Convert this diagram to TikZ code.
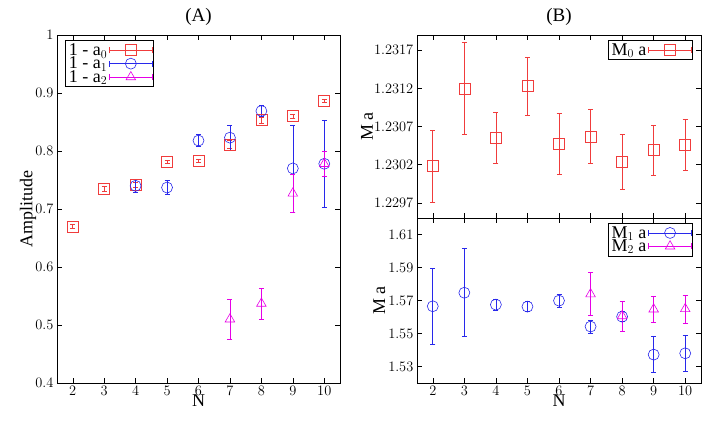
\documentclass[tikz,border=0pt]{standalone}
\usepackage{fontspec}
\setmainfont{Liberation Serif}
\usepackage{pgfplots}
\pgfplotsset{compat=1.18}
\definecolor{gpred}{RGB}{240,60,60}
\definecolor{gpblue}{RGB}{40,40,235}
\definecolor{gpmag}{RGB}{230,0,230}
\pgfplotsset{
  every tick label/.append style={font=\fontsize{14}{15}\selectfont},
  every axis label/.append style={font=\fontsize{18}{19}\selectfont},
  every axis title/.append style={font=\fontsize{19}{20}\selectfont},
  every axis legend/.append style={font=\fontsize{18}{18}\selectfont},
  gpaxis/.style={scale only axis,anchor=south west,xmin=1.5,xmax=10.5,
    xtick={2,...,10},tick align=inside,tick style={black,thin},
    major tick length=5pt,line width=0.7pt,
    legend cell align=left,legend plot pos=right,
    legend style={draw=black,line width=0.7pt,inner sep=1pt,row sep=-4pt}},
  gperr/.style={#1,only marks,mark size=5.5pt,line width=0.6pt,
    legend image code/.code={
      \draw[#1,mark=none,line width=0.6pt] (0cm,-3pt)--(0cm,3pt) (0cm,0cm)--(1.5cm,0cm) (1.5cm,-3pt)--(1.5cm,3pt);
      \draw[#1,only marks] plot coordinates {(0.75cm,0cm)};},
    error bars/.cd,y dir=both,y explicit,
    error bar style={#1,line width=0.6pt},
    error mark options={#1,rotate=90,mark size=2.5pt,line width=0.6pt}},
  gpzero/.style={mark=square,gperr=gpred},
  gpone/.style={mark=o,gperr=gpblue},
  gptwo/.style={mark=triangle,gperr=gpmag}
}
\begin{document}
\begin{tikzpicture}
\useasboundingbox (0,0) rectangle (708pt,436pt);
% (A) amplitudes
\begin{axis}[gpaxis,at={(57pt,53pt)},width=283pt,height=348pt,
  ymin=0.4,ymax=1,ytick={0.4,0.5,...,1.0},
  yticklabel style={/pgf/number format/fixed,/pgf/number format/precision=1},
  title={(A)},xlabel={N},ylabel={Amplitude},
  xlabel style={yshift=8pt},ylabel style={yshift=-8pt},
  legend style={at={(0.03,0.985)},anchor=north west}]
\addplot[gpzero] table[y error=e] {
x y e
2 0.670 0.004
3 0.735 0.004
4 0.742 0.004
5 0.781 0.003
6 0.783 0.003
7 0.811 0.007
8 0.853 0.005
9 0.860 0.003
10 0.887 0.003
};
\addlegendentry{1 - a$_0$}
\addplot[gpone] table[y error=e] {
x y e
4 0.740 0.012
5 0.737 0.012
6 0.818 0.010
7 0.823 0.021
8 0.869 0.009
9 0.770 0.075
10 0.778 0.075
};
\addlegendentry{1 - a$_1$}
\addplot[gptwo] table[y error=e] {
x y e
7 0.510 0.035
8 0.537 0.027
9 0.727 0.032
10 0.778 0.022
};
\addlegendentry{1 - a$_2$}
\end{axis}
% (B) upper: ground state mass
\begin{axis}[gpaxis,at={(417pt,218pt)},width=284pt,height=183pt,
  ymin=1.2295,ymax=1.2319,ytick={1.2297,1.2302,1.2307,1.2312,1.2317},
  yticklabel style={/pgf/number format/fixed,/pgf/number format/precision=4},
  xticklabels={},title={(B)},ylabel={M a},ylabel style={yshift=-6pt},
  legend style={at={(0.972,0.973)},anchor=north east}]
\addplot[gpzero] table[y error=e] {
x y e
2 1.23018 0.00047
3 1.23120 0.00060
4 1.23055 0.00033
5 1.23123 0.00038
6 1.23047 0.00040
7 1.23057 0.00035
8 1.23024 0.00036
9 1.23039 0.00033
10 1.23046 0.00033
};
\addlegendentry{M$_0$ a}
\end{axis}
% (B) lower: excited masses
\begin{axis}[gpaxis,at={(417pt,53pt)},width=284pt,height=165pt,
  ymin=1.52,ymax=1.62,ytick={1.53,1.55,...,1.61},
  yticklabel style={/pgf/number format/fixed,/pgf/number format/precision=2,
    /pgf/number format/fixed zerofill},
  xlabel={N},ylabel={M a},xlabel style={yshift=8pt},ylabel style={yshift=-4pt},
  legend style={at={(0.972,0.97)},anchor=north east}]
\addplot[gpone] table[y error=e] {
x y e
2 1.5665 0.023
3 1.5747 0.0267
4 1.5675 0.0035
5 1.5663 0.003
6 1.5699 0.004
7 1.5542 0.004
8 1.5602 0.003
9 1.5372 0.011
10 1.5380 0.011
};
\addlegendentry{M$_1$ a}
\addplot[gptwo] table[y error=e] {
x y e
7 1.5739 0.013
8 1.5606 0.009
9 1.5647 0.008
10 1.5649 0.0085
};
\addlegendentry{M$_2$ a}
\end{axis}
\end{tikzpicture}
\end{document}
